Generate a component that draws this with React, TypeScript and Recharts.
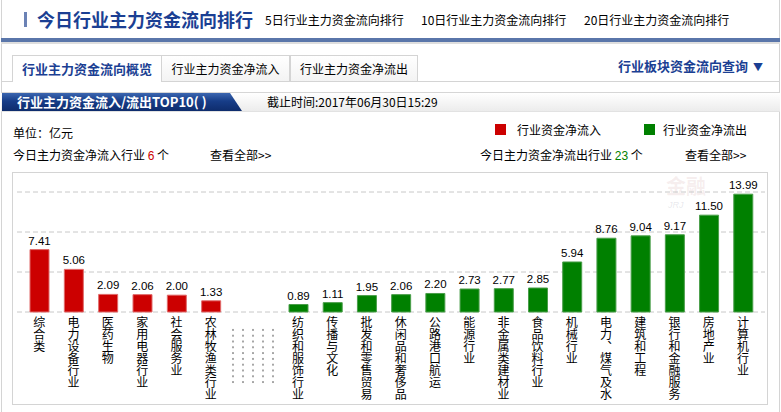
import React from "react";
import { Bar, BarChart, CartesianGrid, LabelList, XAxis, YAxis } from "recharts";

// Page colours: navy titles, red for inflow, green for outflow.
const NAVY = "#1b3f93";
const RED = "#CC0000";
const GREEN = "#008000";
const BORDER = "#d4d4d4";
const GRID = "#c8c8c8";
const CJK = '"Noto Sans CJK SC", "Noto Sans", sans-serif';
const NUM = '"Liberation Sans", Arial, sans-serif';

const INFLOW_NAMES = ["综合类", "电力设备行业", "医药生物", "家用电器行业", "社会服务业", "农林牧渔类行业"];
const INFLOW_VALUES = [7.41, 5.06, 2.09, 2.06, 2.0, 1.33];

const OUTFLOW_NAMES = [
  "纺织和服饰行业", "传播与文化", "批发和零售贸易", "休闲品和奢侈品", "公路港口航运",
  "能源行业", "非金属类建材业", "食品饮料行业", "机械行业", "电力、煤气及水",
  "建筑和工程", "银行和金融服务", "房地产业", "计算机行业",
];
const OUTFLOW_VALUES = [0.89, 1.11, 1.95, 2.06, 2.2, 2.73, 2.77, 2.85, 5.94, 8.76, 9.04, 9.17, 11.5, 13.99];

const Y_MAX = 14.25;
const Y_TICKS = [0, 2.375, 4.75, 7.125, 9.5, 11.875, 14.25];

const inflowData = INFLOW_NAMES.map((name, i) => ({ name, value: INFLOW_VALUES[i] }));
const outflowData = OUTFLOW_NAMES.map((name, i) => ({ name, value: OUTFLOW_VALUES[i] }));

/** Category names run top-to-bottom under the bar (vertical writing mode). */
function VerticalTick(props: any) {
  const { x, y, payload } = props;
  return (
    <text
      x={x}
      y={y + 4}
      fontSize={12}
      fill="#000"
      fontFamily={CJK}
      style={{ writingMode: "vertical-rl" } as any}
    >
      {String(payload.value)}
    </text>
  );
}

function Txt({ left, top, size = 12, color = "#000", bold = false, children }: any) {
  return (
    <div
      style={{
        position: "absolute",
        left,
        top,
        fontSize: size,
        lineHeight: "16px",
        color,
        fontWeight: bold ? 700 : 400,
        whiteSpace: "nowrap",
      }}
    >
      {children}
    </div>
  );
}

function Chart({
  data,
  fill,
  stroke,
  width,
  padding,
}: {
  data: { name: string; value: number }[];
  fill: string;
  stroke: string;
  width: number;
  padding: { left: number; right: number };
}) {
  return (
    <BarChart width={width} height={233} data={data} margin={{ top: 20, right: 0, bottom: 0, left: 0 }}>
      <CartesianGrid horizontal vertical={false} stroke={GRID} strokeDasharray="5 3" />
      <XAxis
        dataKey="name"
        interval={0}
        height={93}
        padding={padding}
        axisLine={false}
        tickLine={false}
        tickSize={0}
        tickMargin={0}
        tick={<VerticalTick />}
      />
      <YAxis hide domain={[0, Y_MAX]} ticks={Y_TICKS} />
      <Bar dataKey="value" fill={fill} stroke={stroke} strokeWidth={1} barSize={19} isAnimationActive={false}>
        <LabelList
          dataKey="value"
          position="top"
          offset={5}
          fill="#000"
          fontSize={11.5}
          fontFamily={NUM}
          formatter={(v: any) => Number(v).toFixed(2)}
        />
      </Bar>
    </BarChart>
  );
}

export default function App() {
  return (
    <div
      style={{
        position: "relative",
        width: 781,
        height: 412,
        background: "#fff",
        overflow: "hidden",
        fontFamily: CJK,
      }}
    >
      <style>{"body{margin:0}"}</style>

      {/* page side borders */}
      <div style={{ position: "absolute", left: 1, top: 0, width: 1, height: 412, background: BORDER }} />
      <div style={{ position: "absolute", left: 779, top: 0, width: 1, height: 412, background: BORDER }} />

      {/* title row */}
      <div style={{ position: "absolute", left: 24, top: 12, width: 3, height: 15, background: "#6b82b5" }} />
      <div
        style={{
          position: "absolute",
          left: 37,
          top: 8,
          fontSize: 18,
          lineHeight: "22px",
          fontWeight: 700,
          color: NAVY,
          whiteSpace: "nowrap",
        }}
      >
        今日行业主力资金流向排行
      </div>
      <Txt left={265} top={12}>5日行业主力资金流向排行</Txt>
      <Txt left={421} top={12}>10日行业主力资金流向排行</Txt>
      <Txt left={584} top={12}>20日行业主力资金流向排行</Txt>
      <div style={{ position: "absolute", left: 1, top: 38, width: 779, height: 4, background: "#5a76aa" }} />
      <div style={{ position: "absolute", left: 1, top: 42, width: 779, height: 2, background: "#dedede" }} />

      {/* tabs */}
      <div
        style={{
          position: "absolute",
          left: 12,
          top: 55,
          width: 150,
          height: 27,
          boxSizing: "border-box",
          border: `1px solid ${BORDER}`,
          borderBottom: "none",
          background: "#fff",
          color: NAVY,
          fontWeight: 700,
          fontSize: 13,
          lineHeight: "26px",
          textAlign: "center",
        }}
      >
        行业主力资金流向概览
      </div>
      {[
        { left: 162, label: "行业主力资金净流入" },
        { left: 290, label: "行业主力资金净流出" },
      ].map((t) => (
        <div
          key={t.label}
          style={{
            position: "absolute",
            left: t.left,
            top: 55,
            width: 128,
            height: 27,
            boxSizing: "border-box",
            border: `1px solid ${BORDER}`,
            borderLeft: t.left === 162 ? "none" : `1px solid ${BORDER}`,
            background: "linear-gradient(#ffffff, #f3f3f3)",
            fontSize: 12,
            lineHeight: "26px",
            textAlign: "center",
          }}
        >
          {t.label}
        </div>
      ))}
      <div style={{ position: "absolute", left: 1, top: 81, width: 11, height: 1, background: BORDER }} />
      <div style={{ position: "absolute", left: 418, top: 81, width: 362, height: 1, background: BORDER }} />
      <div
        style={{
          position: "absolute",
          left: 618,
          top: 58,
          fontSize: 13,
          lineHeight: "16px",
          fontWeight: 700,
          color: NAVY,
          whiteSpace: "nowrap",
        }}
      >
        行业板块资金流向查询
        <span style={{ fontSize: 10, marginLeft: 5 }}>▼</span>
      </div>

      {/* section banner */}
      <div
        style={{
          position: "absolute",
          left: 1,
          top: 92,
          width: 779,
          height: 20,
          boxSizing: "border-box",
          borderTop: "1px solid #d6d6d6",
          borderBottom: "1px solid #e2e2e2",
          background: "linear-gradient(#ffffff, #ececec)",
        }}
      />
      <div
        style={{
          position: "absolute",
          left: 2,
          top: 93,
          width: 240,
          height: 18,
          background: "linear-gradient(#3b66b0, #173d88 45%, #0e2c6c)",
          clipPath: "polygon(0 0, 228px 0, 240px 100%, 0 100%)",
        }}
      />
      <div
        style={{
          position: "absolute",
          left: 17,
          top: 94,
          fontSize: 13,
          lineHeight: "16px",
          fontWeight: 700,
          color: "#fff",
          whiteSpace: "nowrap",
        }}
      >
        行业主力资金流入/流出TOP10( )
      </div>
      <Txt left={267} top={94}>截止时间:2017年06月30日15:29</Txt>

      {/* unit, legend, counts */}
      <Txt left={13} top={125}>单位：亿元</Txt>
      <div style={{ position: "absolute", left: 495, top: 124, width: 11, height: 11, background: RED }} />
      <Txt left={517} top={122}>行业资金净流入</Txt>
      <div style={{ position: "absolute", left: 644, top: 124, width: 11, height: 11, background: GREEN }} />
      <Txt left={663} top={122}>行业资金净流出</Txt>
      <Txt left={13} top={147}>
        今日主力资金净流入行业 <span style={{ color: RED, fontFamily: NUM }}>6</span> 个
      </Txt>
      <Txt left={210} top={147}>查看全部&gt;&gt;</Txt>
      <Txt left={480} top={147}>
        今日主力资金净流出行业 <span style={{ color: GREEN, fontFamily: NUM }}>23</span> 个
      </Txt>
      <Txt left={685} top={147}>查看全部&gt;&gt;</Txt>

      {/* chart frame */}
      <div
        style={{
          position: "absolute",
          left: 12,
          top: 172,
          width: 756,
          height: 233,
          boxSizing: "border-box",
          border: `1px solid ${BORDER}`,
        }}
      />

      {/* watermark */}
      <div
        style={{
          position: "absolute",
          left: 666,
          top: 176,
          fontSize: 20,
          fontWeight: 700,
          color: "rgba(200,150,150,0.16)",
          lineHeight: "19px",
          whiteSpace: "nowrap",
        }}
      >
        金融
      </div>
      <div
        style={{
          position: "absolute",
          left: 668,
          top: 200,
          fontSize: 9,
          lineHeight: "10px",
          fontStyle: "italic",
          color: "rgba(160,160,180,0.25)",
          fontFamily: NUM,
        }}
      >
        JRJ
      </div>

      {/* inflow group */}
      <div style={{ position: "absolute", left: 17, top: 172 }}>
        <Chart data={inflowData} fill={RED} stroke="#e06a6a" width={264} padding={{ left: 5, right: 53 }} />
      </div>

      {/* placeholder between the groups */}
      <div
        style={{
          position: "absolute",
          left: 228,
          top: 327,
          width: 50,
          height: 58,
          backgroundImage: "radial-gradient(circle, #8a8a8a 0.6px, transparent 1px)",
          backgroundSize: "10px 5.8px",
        }}
      />

      {/* outflow group */}
      <div style={{ position: "absolute", left: 281, top: 172 }}>
        <Chart data={outflowData} fill={GREEN} stroke="#4a9e4a" width={484} padding={{ left: 0, right: 5 }} />
      </div>
    </div>
  );
}
